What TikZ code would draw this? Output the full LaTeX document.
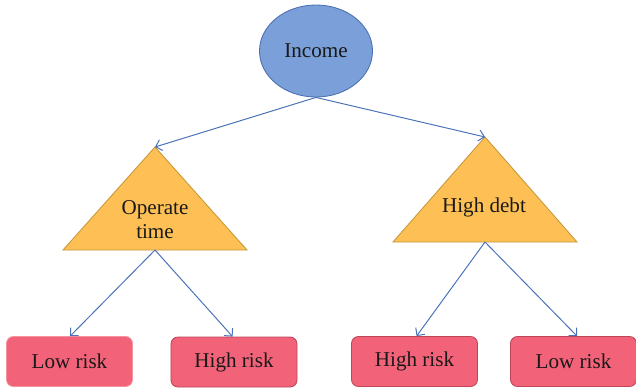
\documentclass[tikz,border=0pt]{standalone}
\usepackage{fontspec}
\setmainfont{Liberation Serif}
\usetikzlibrary{arrows.meta,shapes.geometric}
\definecolor{incfill}{HTML}{7B9FD8}
\definecolor{incline}{HTML}{4A6FB0}
\definecolor{trifill}{HTML}{FEC055}
\definecolor{triline}{HTML}{C5963A}
\definecolor{boxfill}{HTML}{F26278}
\definecolor{boxline}{HTML}{BE4558}
\definecolor{arrcol}{HTML}{4A72B8}
\tikzset{
  txt/.style={font=\fontsize{15}{17}\selectfont, text=black!90, align=center},
  risk/.style={txt, draw=boxline, fill=boxfill, rounded corners=5pt, line width=0.6pt,
    minimum width=3.15cm, minimum height=1.25cm, inner sep=0pt},
  tri/.style={draw=triline, fill=trifill, line width=0.6pt},
  link/.style={draw=arrcol, line width=0.7pt, -{Straight Barb[length=1.4mm,width=2.8mm]}}
}
\begin{document}
\begin{tikzpicture}[x=0.025cm, y=-0.025cm]
			\useasboundingbox (0,0) rectangle (636,389);
			% root
			\node[txt, ellipse, draw=incline, fill=incfill, line width=0.6pt,
			  minimum width=2.825cm, minimum height=2.3cm, inner sep=0pt] (income) at (316,51) {Income};
			% left split
			\coordinate (optop) at (155,147);
			\coordinate (opbase) at (155,250);
			\draw[tri] (optop) -- (63,250) -- (247,250) -- cycle;
			\node[txt] (optime) at (155,220) {Operate\\time};
			% right split
			\coordinate (debttop) at (485,137);
			\coordinate (debtbase) at (485,242);
			\draw[tri] (debttop) -- (393,242) -- (577,242) -- cycle;
			\node[txt] (debt) at (484,207) {High debt};
			% leaves
			\node[risk, draw=boxfill!70!white] (lowa) at (69.5,361.5) {Low risk};
			\node[risk] (higha) at (234,362) {High risk};
			\node[risk] (highb) at (414.5,361.5) {High risk};
			\node[risk] (lowb) at (573.5,361.5) {Low risk};
			% links
			\draw[link] (income.south) -- (optop);
			\draw[link] (income.south) -- (debttop);
			\draw[link] (opbase) -- ([xshift=0.5] lowa.north);
			\draw[link] (opbase) -- ([xshift=-1] higha.north);
			\draw[link] (debtbase) -- ([xshift=1.5] highb.north);
			\draw[link] (debtbase) -- ([xshift=2.5] lowb.north);
		\end{tikzpicture}
\end{document}
